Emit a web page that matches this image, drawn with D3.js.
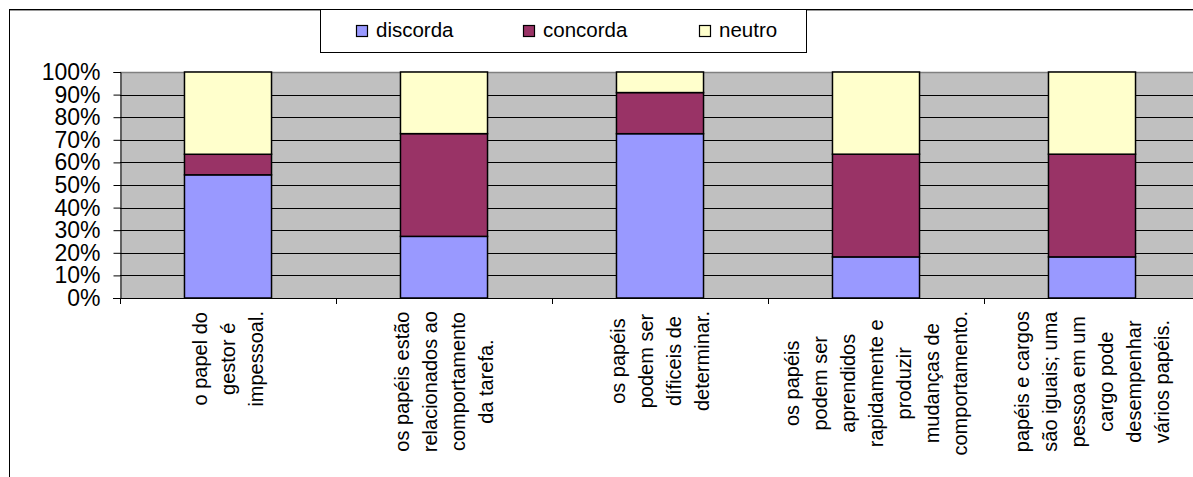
<!DOCTYPE html>
<html>
<head>
<meta charset="utf-8">
<script src="https://cdn.jsdelivr.net/npm/d3@7"></script>
<style>
  html, body { margin: 0; padding: 0; background: #fff; }
  svg { display: block; }
  text { font-family: "Liberation Sans", Arial, sans-serif; fill: #000; }
</style>
</head>
<body>
<svg id="chart" width="1193" height="477"></svg>
<script>
// ---- data ----
const categories = [
  "o papel do gestor é impessoal.",
  "os papéis estão relacionados ao comportamento da tarefa.",
  "os papéis podem ser díficeis de determinar.",
  "os papéis podem ser aprendidos rapidamente e produzir mudanças de comportamento.",
  "papéis e cargos são iguais; uma pessoa em um cargo pode desempenhar vários papéis."
];
const categoryLines = [
  ["o papel do", "gestor é", "impessoal."],
  ["os papéis estão", "relacionados ao", "comportamento", "da tarefa."],
  ["os papéis", "podem ser", "díficeis de", "determinar."],
  ["os papéis", "podem ser", "aprendidos", "rapidamente e", "produzir", "mudanças de", "comportamento."],
  ["papéis e cargos", "são iguais; uma", "pessoa em um", "cargo pode", "desempenhar", "vários papéis."]
];
const seriesNames = ["discorda", "concorda", "neutro"];
const discorda = [54.5, 27.3, 72.7, 18.2, 18.2];
const concorda = [9.1, 45.5, 18.2, 45.5, 45.5];
const neutro   = [36.4, 27.3, 9.1, 36.4, 36.4];
const yTicks = [0, 0.1, 0.2, 0.3, 0.4, 0.5, 0.6, 0.7, 0.8, 0.9, 1.0];
const colors = ["#9999FF", "#993366", "#FFFFCC"];

// ---- build table ----
const rows = categories.map((c, i) => ({
  cat: c, discorda: discorda[i], concorda: concorda[i], neutro: neutro[i]
}));
const stacked = d3.stack().keys(seriesNames).offset(d3.stackOffsetExpand)(rows);

// ---- layout ----
const svg = d3.select("#chart");
const plot = { left: 120, right: 1200, top: 72, bottom: 298 };

const x = d3.scaleBand().domain(categories).range([plot.left, plot.right]).padding(0);
const barFrac = 0.403;
const barW = x.bandwidth() * barFrac;
const y = d3.scaleLinear().domain([0, 1]).range([plot.bottom, plot.top]);
const color = d3.scaleOrdinal().domain(seriesNames).range(colors);

// chart outer border
svg.append("rect")
  .attr("x", 9.5).attr("y", 9.5)
  .attr("width", 1300).attr("height", 600)
  .attr("fill", "#fff").attr("stroke", "#000").attr("stroke-width", 1);
svg.append("line")
  .attr("x1", 10).attr("x2", 1193).attr("y1", 10.5).attr("y2", 10.5)
  .attr("stroke", "#9a9a9a").attr("stroke-width", 1);

// plot background
svg.append("rect")
  .attr("x", plot.left).attr("y", plot.top)
  .attr("width", plot.right - plot.left).attr("height", plot.bottom - plot.top)
  .attr("fill", "#C0C0C0");

// gridlines
svg.append("g").selectAll("line")
  .data(yTicks.filter(t => t > 0 && t < 1))
  .join("line")
  .attr("x1", plot.left).attr("x2", plot.right)
  .attr("y1", d => Math.round(y(d)) + 0.5).attr("y2", d => Math.round(y(d)) + 0.5)
  .attr("stroke", "#000").attr("stroke-width", 1);
// top plot border (gray)
svg.append("line")
  .attr("x1", plot.left).attr("x2", plot.right)
  .attr("y1", plot.top + 0.5).attr("y2", plot.top + 0.5)
  .attr("stroke", "#808080").attr("stroke-width", 1.5);

// bars
svg.append("g").selectAll("g")
  .data(stacked)
  .join("g")
  .attr("fill", d => color(d.key))
  .selectAll("rect")
  .data(d => d)
  .join("rect")
  .attr("x", d => x(d.data.cat) + (x.bandwidth() - barW) / 2)
  .attr("width", barW)
  .attr("y", d => y(d[1]))
  .attr("height", d => y(d[0]) - y(d[1]))
  .attr("stroke", "#000").attr("stroke-width", 1.5);

// y axis
const yAxis = svg.append("g")
  .attr("transform", `translate(${plot.left + 0.5},0)`)
  .call(d3.axisLeft(y).tickValues(yTicks).tickFormat(d3.format(".0%")).tickSize(7).tickPadding(13));
yAxis.select(".domain").attr("stroke", "#000");
yAxis.selectAll(".tick line").attr("stroke", "#000");
yAxis.selectAll(".tick text")
  .attr("font-size", "23px")
  .attr("font-family", "'Liberation Sans', Arial, sans-serif")
  .attr("fill", "#000")
  .attr("dy", "0.33em");

// x axis line with boundary ticks
const xAxisG = svg.append("g");
xAxisG.append("line")
  .attr("x1", plot.left - 7).attr("x2", plot.right)
  .attr("y1", plot.bottom + 0.5).attr("y2", plot.bottom + 0.5)
  .attr("stroke", "#000");
xAxisG.selectAll("line.bt")
  .data(categories)
  .join("line")
  .attr("class", "bt")
  .attr("x1", d => Math.round(x(d)) + 0.5).attr("x2", d => Math.round(x(d)) + 0.5)
  .attr("y1", plot.bottom).attr("y2", plot.bottom + 6)
  .attr("stroke", "#000");

// x labels (rotated, multi-line, centered)
const lineGap = 28;
const labelTop = 311;
categoryLines.forEach((lines, i) => {
  const cx = x(categories[i]) + x.bandwidth() / 2;
  const g = svg.append("g");
  const t = g.append("text")
    .attr("text-anchor", "middle")
    .attr("font-size", "20px");
  const n = lines.length;
  lines.forEach((ln, j) => {
    t.append("tspan")
      .attr("x", 0)
      .attr("y", (j - (n - 1) / 2) * lineGap)
      .attr("dominant-baseline", "central")
      .text(ln);
  });
  let maxLen = 0;
  t.selectAll("tspan").each(function () { maxLen = Math.max(maxLen, this.getComputedTextLength()); });
  g.attr("transform", `translate(${cx},${labelTop + maxLen / 2}) rotate(-90)`);
});

// legend
const legend = svg.append("g");
legend.append("rect")
  .attr("x", 320.5).attr("y", 9.5).attr("width", 486).attr("height", 43)
  .attr("fill", "#fff").attr("stroke", "#000").attr("stroke-width", 1);
const legendX = [356, 523, 699];
seriesNames.forEach((s, i) => {
  legend.append("rect")
    .attr("x", legendX[i] + 0.5).attr("y", 25.5).attr("width", 11).attr("height", 11)
    .attr("fill", color(s)).attr("stroke", "#000").attr("stroke-width", 1.2);
  legend.append("text")
    .attr("x", legendX[i] + 20).attr("y", 37)
    .attr("font-size", "20.5px")
    .text(s);
});
</script>
</body>
</html>
